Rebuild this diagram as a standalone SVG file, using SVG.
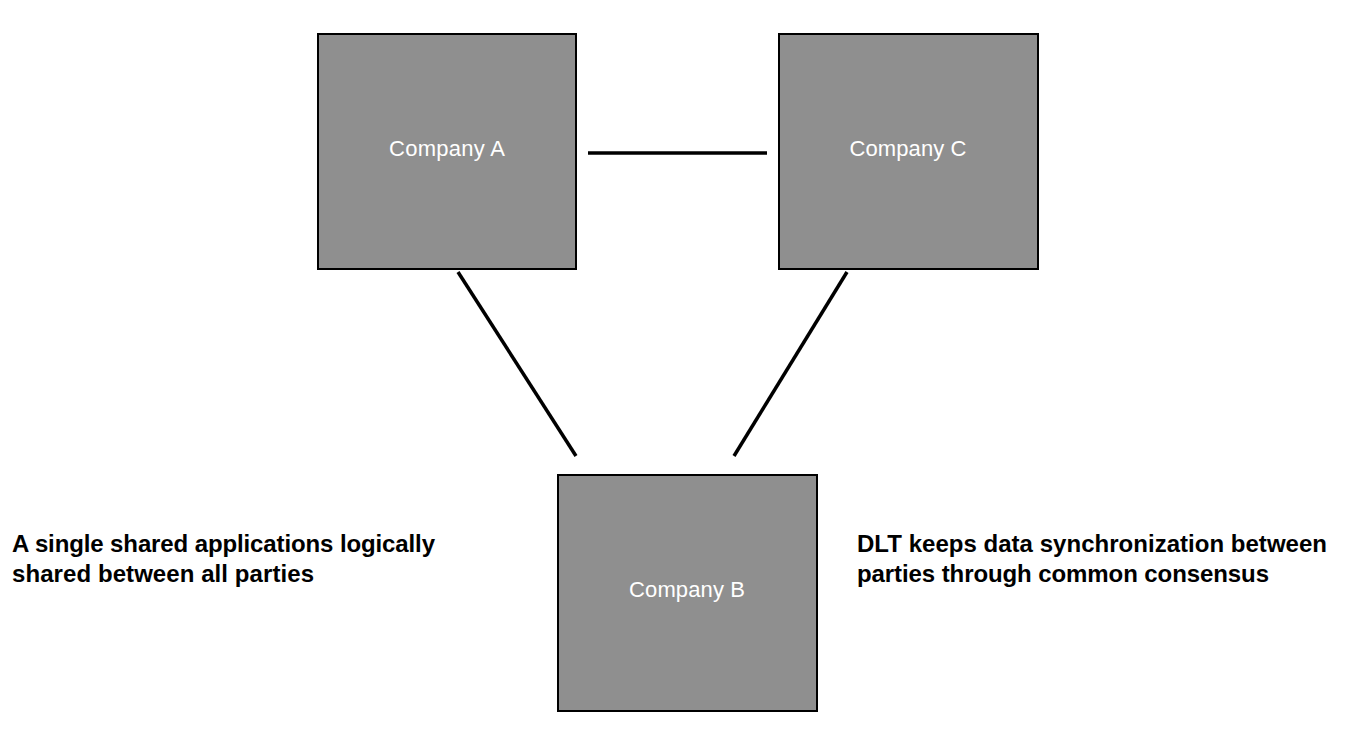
<svg xmlns="http://www.w3.org/2000/svg" width="1356" height="743" viewBox="0 0 1356 743">
<style>
.box{fill:#8f8f8f;stroke:#000;stroke-width:2}
.lbl{font-family:"Liberation Sans",Arial,sans-serif;font-size:22px;fill:#fff;text-anchor:middle}
.note{font-family:"Liberation Sans",Arial,sans-serif;font-size:24px;font-weight:bold;fill:#000}
.conn{stroke:#000;stroke-width:3.5;fill:none}
</style>
<rect width="1356" height="743" fill="#fff"/>
<g id="connectors">
<line class="conn" x1="588" y1="153" x2="767" y2="153"/>
<line class="conn" x1="458" y1="272" x2="576" y2="456"/>
<line class="conn" x1="847" y1="272" x2="734" y2="456"/>
</g>
<g id="companyA">
<rect class="box" x="318" y="34" width="258" height="235"/>
<text class="lbl" x="447" y="156" textLength="116">Company A</text>
</g>
<g id="companyC">
<rect class="box" x="779" y="34" width="259" height="235"/>
<text class="lbl" x="908" y="156" textLength="117">Company C</text>
</g>
<g id="companyB">
<rect class="box" x="558" y="475" width="259" height="236"/>
<text class="lbl" x="687" y="597" textLength="116">Company B</text>
</g>
<g id="note-left">
<text class="note" x="12" y="552" textLength="423">A single shared applications logically</text>
<text class="note" x="12" y="582" textLength="302">shared between all parties</text>
</g>
<g id="note-right">
<text class="note" x="857" y="552" textLength="470">DLT keeps data synchronization between</text>
<text class="note" x="857" y="582" textLength="412">parties through common consensus</text>
</g>
</svg>
